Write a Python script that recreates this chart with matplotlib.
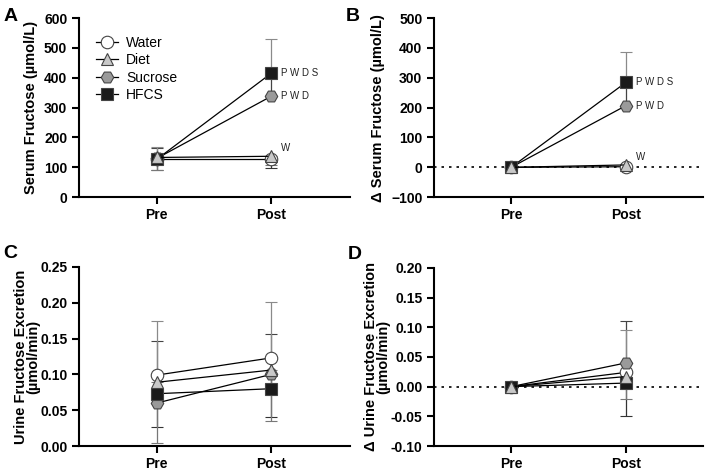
import matplotlib.pyplot as plt
from matplotlib.lines import Line2D
from matplotlib.ticker import FormatStrFormatter

plt.rcParams['font.family'] = ['Liberation Sans', 'DejaVu Sans']

TIMES = ["Pre", "Post"]
GROUPS = ["Water", "Diet", "Sucrose", "HFCS"]

# panel A: serum fructose (umol/L); error bars drawn one-sided as in the source
serum_mean = {"Water": [128, 128], "Diet": [133, 137], "Sucrose": [130, 338], "HFCS": [127, 415]}
serum_lo = {"Water": [37, 31], "Diet": [42, 30], "Sucrose": [0, 0], "HFCS": [0, 0]}
serum_hi = {"Water": [0, 0], "Diet": [0, 0], "Sucrose": [35, 75], "HFCS": [41, 115]}
# panel B: delta serum fructose
dserum_mean = {"Water": [0, 2], "Diet": [0, 8], "Sucrose": [0, 207], "HFCS": [0, 285]}
dserum_lo = {"Water": [0, 8], "Diet": [0, 8], "Sucrose": [0, 0], "HFCS": [0, 0]}
dserum_hi = {"Water": [0, 0], "Diet": [0, 0], "Sucrose": [0, 75], "HFCS": [0, 100]}
# panel C: urine fructose excretion (umol/min)
urine_mean = {"Water": [0.099, 0.123], "Diet": [0.089, 0.106], "Sucrose": [0.060, 0.100], "HFCS": [0.073, 0.080]}
urine_lo = {"Water": [0.073, 0.083], "Diet": [0.085, 0.071], "Sucrose": [0, 0], "HFCS": [0, 0]}
urine_hi = {"Water": [0, 0], "Diet": [0, 0], "Sucrose": [0.086, 0.056], "HFCS": [0.101, 0.121]}
# panel D: delta urine fructose excretion
durine_mean = {"Water": [0, 0.024], "Diet": [0, 0.017], "Sucrose": [0, 0.040], "HFCS": [0, 0.006]}
durine_lo = {"Water": [0, 0.073], "Diet": [0, 0.037], "Sucrose": [0, 0], "HFCS": [0, 0]}
durine_hi = {"Water": [0, 0], "Diet": [0, 0], "Sucrose": [0, 0.071], "HFCS": [0, 0.089]}

STYLE = {
    "Water": dict(marker="o", mfc="white", ms=9, ecolor="#333333"),
    "Diet": dict(marker="^", mfc="#c8c8c8", ms=9, ecolor="#777777"),
    "Sucrose": dict(marker="H", mfc="#9a9a9a", ms=9, ecolor="#444444"),
    "HFCS": dict(marker="s", mfc="#1a1a1a", ms=8, ecolor="#8a8a8a"),
}
DRAW_ORDER = ["Water", "Sucrose", "HFCS", "Diet"]


def draw_panel(ax, means, lo, hi, ylim, yticks, ylabel, fmt=None, zero_line=False, labelpad=4):
    x = [0, 1]
    if zero_line:
        ax.axhline(0, color="black", linestyle=(0, (1.5, 3)), linewidth=1.2, zorder=0)
    for g in DRAW_ORDER:
        st = STYLE[g]
        ax.errorbar(x, means[g], yerr=[lo[g], hi[g]], color="black", linewidth=0.9,
                    marker=st["marker"], mfc=st["mfc"], mec="#444444", mew=0.8,
                    ms=st["ms"], ecolor=st["ecolor"], elinewidth=0.9, capsize=4,
                    capthick=0.9)
    ax.set_xticks(x)
    ax.set_xticklabels(TIMES, fontweight="bold", fontsize=10)
    ax.set_ylim(*ylim)
    ax.set_yticks(yticks)
    if fmt:
        ax.yaxis.set_major_formatter(FormatStrFormatter(fmt))
    for lab in ax.get_yticklabels():
        lab.set_fontweight("bold")
        lab.set_fontsize(10)
    ax.set_ylabel(ylabel, fontweight="bold", fontsize=10.5, linespacing=0.85, labelpad=labelpad)
    for s in ["top", "right"]:
        ax.spines[s].set_visible(False)
    for s in ["left", "bottom"]:
        ax.spines[s].set_linewidth(1.5)
    ax.tick_params(width=1.5, length=5, direction="out")
    ax.tick_params(axis="x", pad=3)


fig = plt.figure(figsize=(7.06, 4.74), dpi=100)
axA = fig.add_axes([0.112, 0.584, 0.384, 0.378])
axB = fig.add_axes([0.615, 0.584, 0.381, 0.378])
axC = fig.add_axes([0.112, 0.059, 0.384, 0.378])
axD = fig.add_axes([0.615, 0.059, 0.381, 0.376])

draw_panel(axA, serum_mean, serum_lo, serum_hi, (0, 600), range(0, 601, 100), "Serum Fructose (µmol/L)")
draw_panel(axB, dserum_mean, dserum_lo, dserum_hi, (-100, 500), range(-100, 501, 100),
           "Δ Serum Fructose (µmol/L)", zero_line=True)
draw_panel(axC, urine_mean, urine_lo, urine_hi, (0, 0.25), [0, 0.05, 0.10, 0.15, 0.20, 0.25],
           "Urine Fructose Excretion\n(µmol/min)", fmt="%.2f", labelpad=0)
draw_panel(axD, durine_mean, durine_lo, durine_hi, (-0.10, 0.20), [-0.10, -0.05, 0, 0.05, 0.10, 0.15, 0.20],
           "Δ Urine Fructose Excretion\n(µmol/min)", fmt="%.2f", zero_line=True, labelpad=0)

for ax in (axA, axC):
    ax.set_xlim(-0.68, 1.69)
for ax in (axB, axD):
    ax.set_xlim(-0.67, 1.67)

# significance letters
ann_kw = dict(fontsize=7, ha="left", va="center", color="#222222")
axA.annotate("P W D S", (1, serum_mean["HFCS"][1]), xytext=(7, 0), textcoords="offset points", **ann_kw)
axA.annotate("P W D", (1, serum_mean["Sucrose"][1]), xytext=(7, 0), textcoords="offset points", **ann_kw)
axA.annotate("W", (1, serum_mean["Diet"][1]), xytext=(7, 6), textcoords="offset points", **ann_kw)
axB.annotate("P W D S", (1, dserum_mean["HFCS"][1]), xytext=(7, 0), textcoords="offset points", **ann_kw)
axB.annotate("P W D", (1, dserum_mean["Sucrose"][1]), xytext=(7, 0), textcoords="offset points", **ann_kw)
axB.annotate("W", (1, dserum_mean["Diet"][1]), xytext=(7, 6), textcoords="offset points", **ann_kw)

handles = [Line2D([], [], color="black", linewidth=0.9, marker=STYLE[g]["marker"],
                  mfc=STYLE[g]["mfc"], mec="#444444", mew=0.8, ms=STYLE[g]["ms"]) for g in GROUPS]
axA.legend(handles, GROUPS, loc="upper left",
           bbox_to_anchor=(0.015, 0.97), frameon=False, fontsize=10, handlelength=1.6,
           labelspacing=0.25, handletextpad=0.6)

for letter, (x, y) in zip("ABCD", [(0.005, 0.966), (0.49, 0.966), (0.005, 0.466), (0.492, 0.463)]):
    fig.text(x, y, letter, fontsize=14, fontweight="bold", ha="left", va="center")

fig.savefig("out.png", dpi=100)
